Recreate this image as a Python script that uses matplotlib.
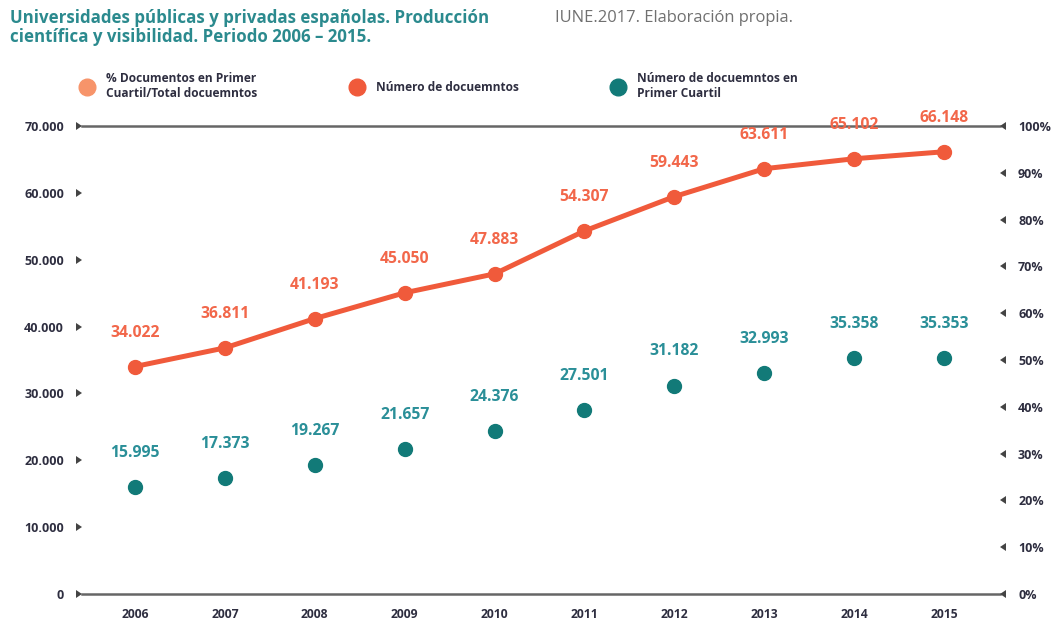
import matplotlib
matplotlib.use("Agg")
import matplotlib.pyplot as plt
from matplotlib.ticker import FuncFormatter, MultipleLocator
from matplotlib.lines import Line2D

years = [2006, 2007, 2008, 2009, 2010, 2011, 2012, 2013, 2014, 2015]
num_docs = [34022, 36811, 41193, 45050, 47883, 54307, 59443, 63611, 65102, 66148]
num_q1 = [15995, 17373, 19267, 21657, 24376, 27501, 31182, 32993, 35358, 35353]

title_lines = ["Universidades públicas y privadas españolas. Producción",
               "científica y visibilidad. Periodo 2006 – 2015."]
source = "IUNE.2017. Elaboración propia."
legend_labels = ["% Documentos en Primer\nCuartil/Total docuemntos",
                 "Número de docuemntos",
                 "Número de docuemntos en\nPrimer Cuartil"]

RED = "#f05a3b"
RED_LBL = "#f2674a"
TEAL = "#127a78"
TEAL_LBL = "#2a8f98"
ORANGE = "#f7946a"
TICK_C = "#2e2e40"
AXIS_C = "#666666"
TRI_C = "#444444"

plt.rcParams['font.family'] = ['Open Sans', 'DejaVu Sans']

def fmt(v):
    return f"{v:,.0f}".replace(",", ".")

fig = plt.figure(figsize=(10.52, 6.23), dpi=100)
ax = fig.add_axes([82/1052, 29/623, (1000-82)/1052, (594-126)/623])
ax2 = ax.twinx()

ax.plot(years, num_docs, color=RED, lw=3.6, marker='o', ms=10, zorder=3, solid_capstyle='round')
ax.plot(years, num_q1, color=TEAL, lw=0, marker='o', ms=10, zorder=3)

for x, v in zip(years, num_docs):
    ax.annotate(fmt(v), (x, v), xytext=(0, 24.5), textcoords='offset points',
                ha='center', va='center', color=RED_LBL, fontsize=11.3, fontweight='bold')
for x, v in zip(years, num_q1):
    ax.annotate(fmt(v), (x, v), xytext=(0, 24.5), textcoords='offset points',
                ha='center', va='center', color=TEAL_LBL, fontsize=11.3, fontweight='bold')

ax.set_xlim(2006 - 53/90, 2015 + 56/90)
ax.set_ylim(0, 70000)
ax2.set_ylim(0, 1.0)
ax.yaxis.set_major_locator(MultipleLocator(10000))
ax.yaxis.set_major_formatter(FuncFormatter(lambda v, p: fmt(v)))
ax2.yaxis.set_major_locator(MultipleLocator(0.1))
ax2.yaxis.set_major_formatter(FuncFormatter(lambda v, p: f"{v*100:.0f}%"))
ax.set_xticks(years)
ax.set_xticklabels([str(y) for y in years])

for a in (ax, ax2):
    for s in ('left', 'right'):
        a.spines[s].set_visible(False)
    for s in ('top', 'bottom'):
        a.spines[s].set_color(AXIS_C)
        a.spines[s].set_linewidth(1.8)
ax2.spines['top'].set_visible(False)
ax2.spines['bottom'].set_visible(False)

ax.tick_params(axis='x', length=0, pad=10, labelsize=8.7, labelcolor=TICK_C)
for lbl in ax.get_xticklabels():
    lbl.set_fontweight('bold')
ax.tick_params(axis='y', length=0, pad=13, labelsize=9, labelcolor=TICK_C)
for lbl in ax.get_yticklabels():
    lbl.set_fontweight('bold')
ax2.tick_params(axis='y', length=0, pad=13, labelsize=9, labelcolor=TICK_C)
for lbl in ax2.get_yticklabels():
    lbl.set_fontweight('bold')

for t in ax.yaxis.get_major_ticks():
    t.tick1line.set_marker(5)
    t.tick1line.set_markersize(5.5)
    t.tick1line.set_color(TRI_C)
    t.tick1line.set_markeredgewidth(0)
for t in ax2.yaxis.get_major_ticks():
    t.tick2line.set_marker(4)
    t.tick2line.set_markersize(5.5)
    t.tick2line.set_color(TRI_C)
    t.tick2line.set_markeredgewidth(0)

for i, line in enumerate(title_lines):
    fig.text(10/1052, 1 - (18 + 19.5*i)/623, line, ha='left', va='center', fontsize=12.2,
             fontweight='bold', color="#2b8a8e")
fig.text(555/1052, 1 - 18/623, source, ha='left', va='center', fontsize=11.9,
         color="#707070")

handles = [Line2D([], [], lw=0, marker='o', ms=12, color=c) for c in (ORANGE, RED, TEAL)]
leg = fig.legend(handles, legend_labels, loc='center left', bbox_to_anchor=(80/1052, 1 - 86/623),
                 ncol=3, frameon=False, fontsize=8.6, columnspacing=7.7, handletextpad=1.0,
                 handlelength=1.2, borderaxespad=0, borderpad=0, labelspacing=0.3)
for txt in leg.get_texts():
    txt.set_fontweight('bold')
    txt.set_color(TICK_C)

fig.savefig("out.png", dpi=100)
